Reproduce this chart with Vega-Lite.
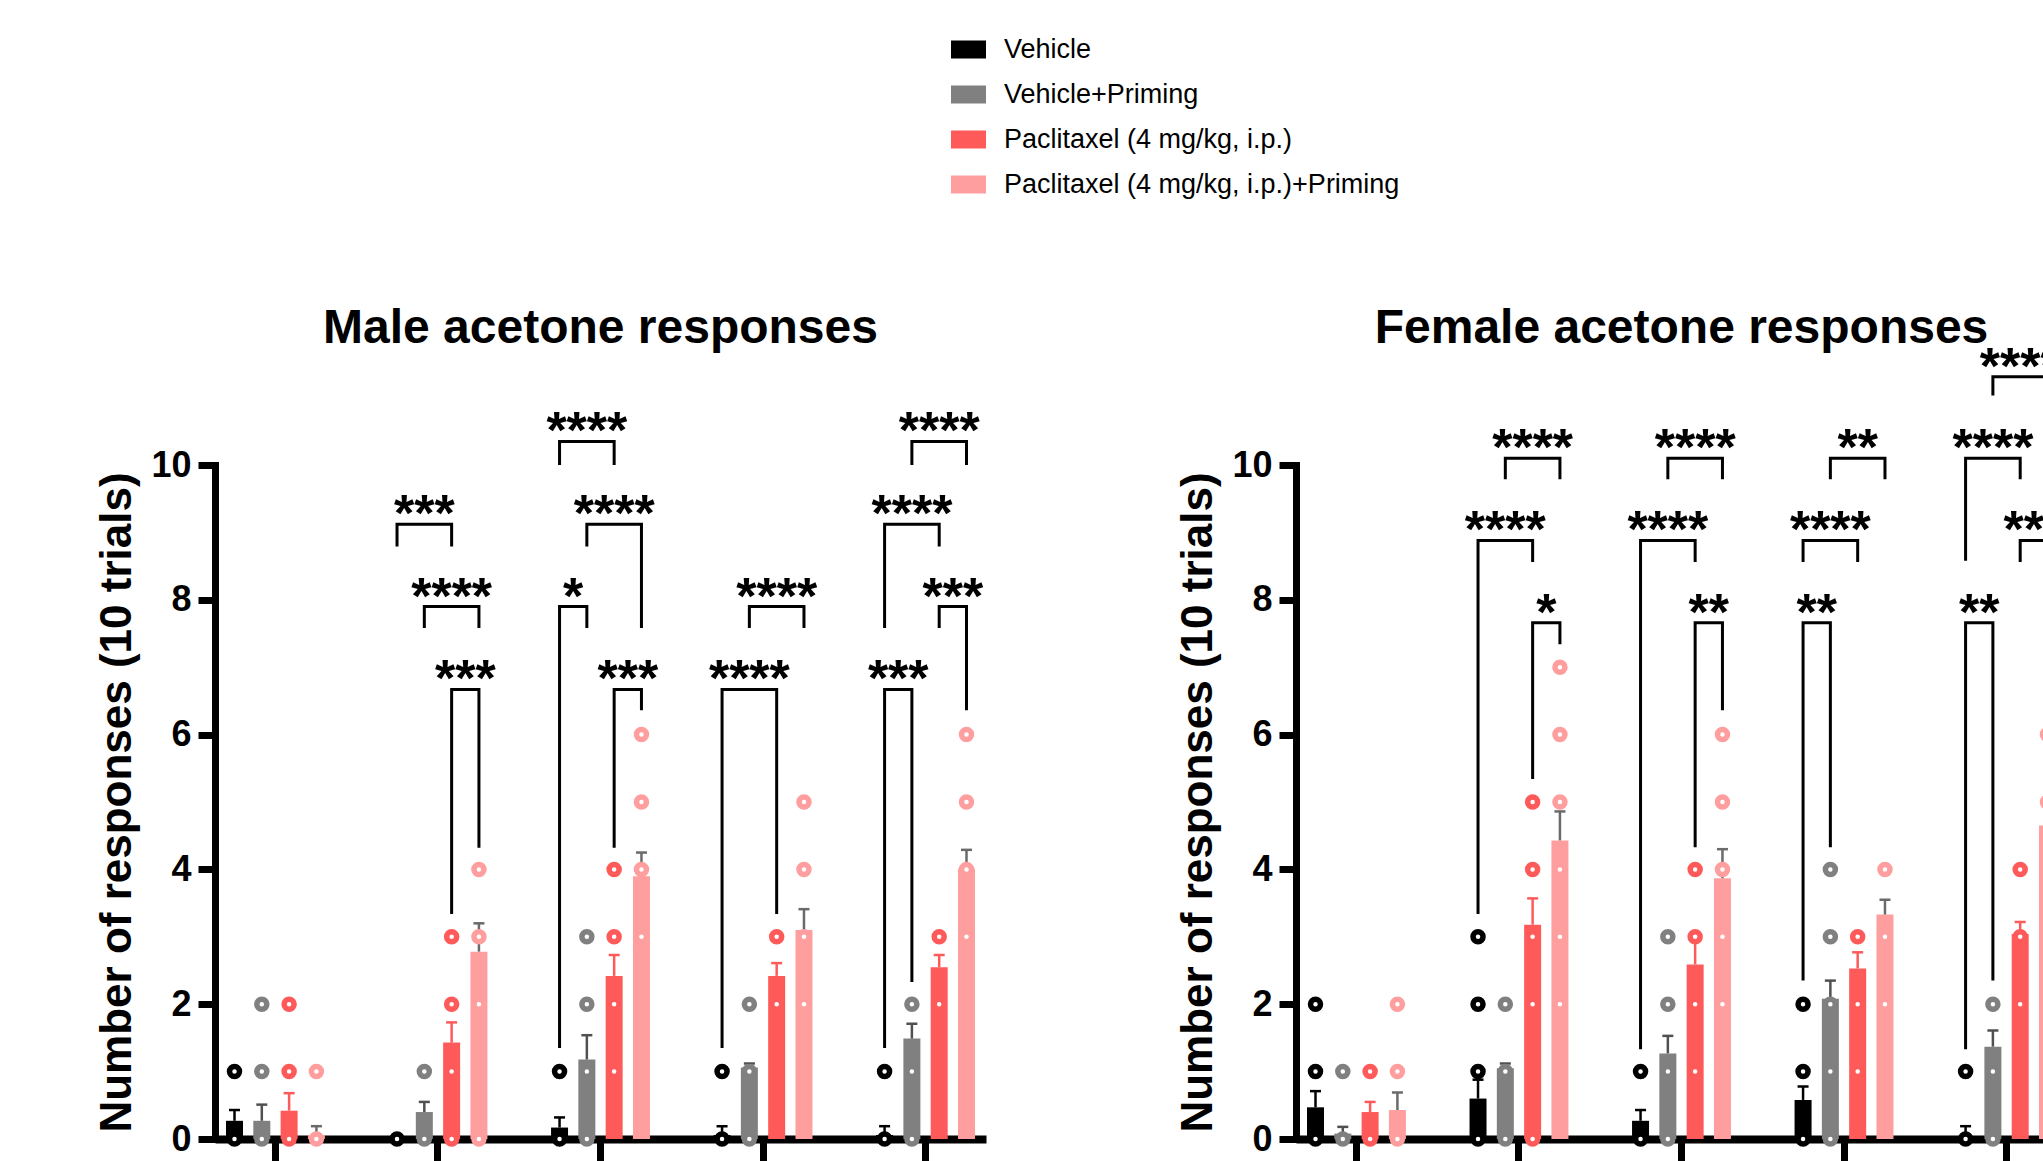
{
  "$schema": "https://vega.github.io/schema/vega-lite/v6.json",
  "padding": {"left": 95, "top": 32, "right": 0, "bottom": 0},
  "spacing": 310,
  "bounds": "flush",
  "resolve": {"scale": {"color": "shared", "fill": "shared"}, "legend": {"color": "shared"}},
  "datasets": {
    "barsM": [
      {"d": "Baseline", "t": "V", "mean": 0.27, "hi": 0.43},
      {"d": "Baseline", "t": "VP", "mean": 0.27, "hi": 0.51},
      {"d": "Baseline", "t": "P", "mean": 0.42, "hi": 0.68},
      {"d": "Baseline", "t": "PP", "mean": 0.06, "hi": 0.19},
      {"d": "Day 7", "t": "V", "mean": 0, "hi": 0},
      {"d": "Day 7", "t": "VP", "mean": 0.40, "hi": 0.55},
      {"d": "Day 7", "t": "P", "mean": 1.43, "hi": 1.73},
      {"d": "Day 7", "t": "PP", "mean": 2.78, "hi": 3.20},
      {"d": "Day 14", "t": "V", "mean": 0.17, "hi": 0.32},
      {"d": "Day 14", "t": "VP", "mean": 1.18, "hi": 1.54},
      {"d": "Day 14", "t": "P", "mean": 2.42, "hi": 2.73},
      {"d": "Day 14", "t": "PP", "mean": 3.90, "hi": 4.25},
      {"d": "Day 21", "t": "V", "mean": 0.06, "hi": 0.19},
      {"d": "Day 21", "t": "VP", "mean": 1.06, "hi": 1.12},
      {"d": "Day 21", "t": "P", "mean": 2.42, "hi": 2.61},
      {"d": "Day 21", "t": "PP", "mean": 3.10, "hi": 3.41},
      {"d": "Day 28", "t": "V", "mean": 0.06, "hi": 0.19},
      {"d": "Day 28", "t": "VP", "mean": 1.49, "hi": 1.71},
      {"d": "Day 28", "t": "P", "mean": 2.55, "hi": 2.73},
      {"d": "Day 28", "t": "PP", "mean": 4.01, "hi": 4.29}
    ],
    "barsF": [
      {"d": "Baseline", "t": "V", "mean": 0.47, "hi": 0.71},
      {"d": "Baseline", "t": "VP", "mean": 0.08, "hi": 0.18},
      {"d": "Baseline", "t": "P", "mean": 0.40, "hi": 0.55},
      {"d": "Baseline", "t": "PP", "mean": 0.43, "hi": 0.69},
      {"d": "Day 7", "t": "V", "mean": 0.60, "hi": 0.88},
      {"d": "Day 7", "t": "VP", "mean": 1.05, "hi": 1.12},
      {"d": "Day 7", "t": "P", "mean": 3.18, "hi": 3.57},
      {"d": "Day 7", "t": "PP", "mean": 4.43, "hi": 4.86},
      {"d": "Day 14", "t": "V", "mean": 0.27, "hi": 0.43},
      {"d": "Day 14", "t": "VP", "mean": 1.27, "hi": 1.53},
      {"d": "Day 14", "t": "P", "mean": 2.59, "hi": 2.95},
      {"d": "Day 14", "t": "PP", "mean": 3.87, "hi": 4.30},
      {"d": "Day 21", "t": "V", "mean": 0.58, "hi": 0.78},
      {"d": "Day 21", "t": "VP", "mean": 2.08, "hi": 2.35},
      {"d": "Day 21", "t": "P", "mean": 2.53, "hi": 2.77},
      {"d": "Day 21", "t": "PP", "mean": 3.33, "hi": 3.55},
      {"d": "Day 28", "t": "V", "mean": 0.04, "hi": 0.19},
      {"d": "Day 28", "t": "VP", "mean": 1.37, "hi": 1.61},
      {"d": "Day 28", "t": "P", "mean": 3.04, "hi": 3.22},
      {"d": "Day 28", "t": "PP", "mean": 4.65, "hi": 4.95}
    ],
    "dotsM": [
      {"d": "Baseline", "t": "V", "v": 0}, {"d": "Baseline", "t": "V", "v": 1},
      {"d": "Baseline", "t": "VP", "v": 0}, {"d": "Baseline", "t": "VP", "v": 1}, {"d": "Baseline", "t": "VP", "v": 2},
      {"d": "Baseline", "t": "P", "v": 0}, {"d": "Baseline", "t": "P", "v": 1}, {"d": "Baseline", "t": "P", "v": 2},
      {"d": "Baseline", "t": "PP", "v": 0}, {"d": "Baseline", "t": "PP", "v": 1},
      {"d": "Day 7", "t": "V", "v": 0},
      {"d": "Day 7", "t": "VP", "v": 0}, {"d": "Day 7", "t": "VP", "v": 1},
      {"d": "Day 7", "t": "P", "v": 0}, {"d": "Day 7", "t": "P", "v": 1}, {"d": "Day 7", "t": "P", "v": 2}, {"d": "Day 7", "t": "P", "v": 3},
      {"d": "Day 7", "t": "PP", "v": 0}, {"d": "Day 7", "t": "PP", "v": 2}, {"d": "Day 7", "t": "PP", "v": 3}, {"d": "Day 7", "t": "PP", "v": 4},
      {"d": "Day 14", "t": "V", "v": 0}, {"d": "Day 14", "t": "V", "v": 1},
      {"d": "Day 14", "t": "VP", "v": 0}, {"d": "Day 14", "t": "VP", "v": 1}, {"d": "Day 14", "t": "VP", "v": 2}, {"d": "Day 14", "t": "VP", "v": 3},
      {"d": "Day 14", "t": "P", "v": 1}, {"d": "Day 14", "t": "P", "v": 2}, {"d": "Day 14", "t": "P", "v": 3}, {"d": "Day 14", "t": "P", "v": 4},
      {"d": "Day 14", "t": "PP", "v": 3}, {"d": "Day 14", "t": "PP", "v": 4}, {"d": "Day 14", "t": "PP", "v": 5}, {"d": "Day 14", "t": "PP", "v": 6},
      {"d": "Day 21", "t": "V", "v": 0}, {"d": "Day 21", "t": "V", "v": 1},
      {"d": "Day 21", "t": "VP", "v": 0}, {"d": "Day 21", "t": "VP", "v": 1}, {"d": "Day 21", "t": "VP", "v": 2},
      {"d": "Day 21", "t": "P", "v": 2}, {"d": "Day 21", "t": "P", "v": 3},
      {"d": "Day 21", "t": "PP", "v": 2}, {"d": "Day 21", "t": "PP", "v": 3}, {"d": "Day 21", "t": "PP", "v": 4}, {"d": "Day 21", "t": "PP", "v": 5},
      {"d": "Day 28", "t": "V", "v": 0}, {"d": "Day 28", "t": "V", "v": 1},
      {"d": "Day 28", "t": "VP", "v": 0}, {"d": "Day 28", "t": "VP", "v": 1}, {"d": "Day 28", "t": "VP", "v": 2},
      {"d": "Day 28", "t": "P", "v": 2}, {"d": "Day 28", "t": "P", "v": 3},
      {"d": "Day 28", "t": "PP", "v": 3}, {"d": "Day 28", "t": "PP", "v": 4}, {"d": "Day 28", "t": "PP", "v": 5}, {"d": "Day 28", "t": "PP", "v": 6}
    ],
    "dotsF": [
      {"d": "Baseline", "t": "V", "v": 0}, {"d": "Baseline", "t": "V", "v": 1}, {"d": "Baseline", "t": "V", "v": 2},
      {"d": "Baseline", "t": "VP", "v": 0}, {"d": "Baseline", "t": "VP", "v": 1},
      {"d": "Baseline", "t": "P", "v": 0}, {"d": "Baseline", "t": "P", "v": 1},
      {"d": "Baseline", "t": "PP", "v": 0}, {"d": "Baseline", "t": "PP", "v": 1}, {"d": "Baseline", "t": "PP", "v": 2},
      {"d": "Day 7", "t": "V", "v": 0}, {"d": "Day 7", "t": "V", "v": 1}, {"d": "Day 7", "t": "V", "v": 2}, {"d": "Day 7", "t": "V", "v": 3},
      {"d": "Day 7", "t": "VP", "v": 0}, {"d": "Day 7", "t": "VP", "v": 1}, {"d": "Day 7", "t": "VP", "v": 2},
      {"d": "Day 7", "t": "P", "v": 0}, {"d": "Day 7", "t": "P", "v": 2}, {"d": "Day 7", "t": "P", "v": 3}, {"d": "Day 7", "t": "P", "v": 4}, {"d": "Day 7", "t": "P", "v": 5},
      {"d": "Day 7", "t": "PP", "v": 2}, {"d": "Day 7", "t": "PP", "v": 3}, {"d": "Day 7", "t": "PP", "v": 4}, {"d": "Day 7", "t": "PP", "v": 5}, {"d": "Day 7", "t": "PP", "v": 6}, {"d": "Day 7", "t": "PP", "v": 7},
      {"d": "Day 14", "t": "V", "v": 0}, {"d": "Day 14", "t": "V", "v": 1},
      {"d": "Day 14", "t": "VP", "v": 0}, {"d": "Day 14", "t": "VP", "v": 1}, {"d": "Day 14", "t": "VP", "v": 2}, {"d": "Day 14", "t": "VP", "v": 3},
      {"d": "Day 14", "t": "P", "v": 1}, {"d": "Day 14", "t": "P", "v": 2}, {"d": "Day 14", "t": "P", "v": 3}, {"d": "Day 14", "t": "P", "v": 4},
      {"d": "Day 14", "t": "PP", "v": 2}, {"d": "Day 14", "t": "PP", "v": 3}, {"d": "Day 14", "t": "PP", "v": 4}, {"d": "Day 14", "t": "PP", "v": 5}, {"d": "Day 14", "t": "PP", "v": 6},
      {"d": "Day 21", "t": "V", "v": 0}, {"d": "Day 21", "t": "V", "v": 1}, {"d": "Day 21", "t": "V", "v": 2},
      {"d": "Day 21", "t": "VP", "v": 0}, {"d": "Day 21", "t": "VP", "v": 1}, {"d": "Day 21", "t": "VP", "v": 2}, {"d": "Day 21", "t": "VP", "v": 3}, {"d": "Day 21", "t": "VP", "v": 4},
      {"d": "Day 21", "t": "P", "v": 1}, {"d": "Day 21", "t": "P", "v": 2}, {"d": "Day 21", "t": "P", "v": 3},
      {"d": "Day 21", "t": "PP", "v": 2}, {"d": "Day 21", "t": "PP", "v": 3}, {"d": "Day 21", "t": "PP", "v": 4},
      {"d": "Day 28", "t": "V", "v": 0}, {"d": "Day 28", "t": "V", "v": 1},
      {"d": "Day 28", "t": "VP", "v": 0}, {"d": "Day 28", "t": "VP", "v": 1}, {"d": "Day 28", "t": "VP", "v": 2},
      {"d": "Day 28", "t": "P", "v": 2}, {"d": "Day 28", "t": "P", "v": 3}, {"d": "Day 28", "t": "P", "v": 4},
      {"d": "Day 28", "t": "PP", "v": 2}, {"d": "Day 28", "t": "PP", "v": 3}, {"d": "Day 28", "t": "PP", "v": 4}, {"d": "Day 28", "t": "PP", "v": 5}, {"d": "Day 28", "t": "PP", "v": 6}
    ],
    "brM": [
      {"b": "m1", "d": "Day 7", "t": "V", "y": 8.79, "o": 1}, {"b": "m1", "d": "Day 7", "t": "V", "y": 9.12, "o": 2}, {"b": "m1", "d": "Day 7", "t": "P", "y": 9.12, "o": 3}, {"b": "m1", "d": "Day 7", "t": "P", "y": 8.79, "o": 4},
      {"b": "m2", "d": "Day 7", "t": "VP", "y": 7.58, "o": 1}, {"b": "m2", "d": "Day 7", "t": "VP", "y": 7.90, "o": 2}, {"b": "m2", "d": "Day 7", "t": "PP", "y": 7.90, "o": 3}, {"b": "m2", "d": "Day 7", "t": "PP", "y": 7.58, "o": 4},
      {"b": "m3", "d": "Day 7", "t": "P", "y": 3.34, "o": 1}, {"b": "m3", "d": "Day 7", "t": "P", "y": 6.67, "o": 2}, {"b": "m3", "d": "Day 7", "t": "PP", "y": 6.67, "o": 3}, {"b": "m3", "d": "Day 7", "t": "PP", "y": 4.32, "o": 4},
      {"b": "m4", "d": "Day 14", "t": "V", "y": 10.0, "o": 1}, {"b": "m4", "d": "Day 14", "t": "V", "y": 10.35, "o": 2}, {"b": "m4", "d": "Day 14", "t": "P", "y": 10.35, "o": 3}, {"b": "m4", "d": "Day 14", "t": "P", "y": 10.0, "o": 4},
      {"b": "m5", "d": "Day 14", "t": "VP", "y": 8.79, "o": 1}, {"b": "m5", "d": "Day 14", "t": "VP", "y": 9.12, "o": 2}, {"b": "m5", "d": "Day 14", "t": "PP", "y": 9.12, "o": 3}, {"b": "m5", "d": "Day 14", "t": "PP", "y": 7.58, "o": 4},
      {"b": "m6", "d": "Day 14", "t": "V", "y": 1.35, "o": 1}, {"b": "m6", "d": "Day 14", "t": "V", "y": 7.90, "o": 2}, {"b": "m6", "d": "Day 14", "t": "VP", "y": 7.90, "o": 3}, {"b": "m6", "d": "Day 14", "t": "VP", "y": 7.58, "o": 4},
      {"b": "m7", "d": "Day 14", "t": "P", "y": 4.32, "o": 1}, {"b": "m7", "d": "Day 14", "t": "P", "y": 6.67, "o": 2}, {"b": "m7", "d": "Day 14", "t": "PP", "y": 6.67, "o": 3}, {"b": "m7", "d": "Day 14", "t": "PP", "y": 6.36, "o": 4},
      {"b": "m8", "d": "Day 21", "t": "VP", "y": 7.58, "o": 1}, {"b": "m8", "d": "Day 21", "t": "VP", "y": 7.90, "o": 2}, {"b": "m8", "d": "Day 21", "t": "PP", "y": 7.90, "o": 3}, {"b": "m8", "d": "Day 21", "t": "PP", "y": 7.58, "o": 4},
      {"b": "m9", "d": "Day 21", "t": "V", "y": 1.35, "o": 1}, {"b": "m9", "d": "Day 21", "t": "V", "y": 6.67, "o": 2}, {"b": "m9", "d": "Day 21", "t": "P", "y": 6.67, "o": 3}, {"b": "m9", "d": "Day 21", "t": "P", "y": 3.34, "o": 4},
      {"b": "m10", "d": "Day 28", "t": "VP", "y": 10.0, "o": 1}, {"b": "m10", "d": "Day 28", "t": "VP", "y": 10.35, "o": 2}, {"b": "m10", "d": "Day 28", "t": "PP", "y": 10.35, "o": 3}, {"b": "m10", "d": "Day 28", "t": "PP", "y": 10.0, "o": 4},
      {"b": "m11", "d": "Day 28", "t": "V", "y": 7.58, "o": 1}, {"b": "m11", "d": "Day 28", "t": "V", "y": 9.12, "o": 2}, {"b": "m11", "d": "Day 28", "t": "P", "y": 9.12, "o": 3}, {"b": "m11", "d": "Day 28", "t": "P", "y": 8.79, "o": 4},
      {"b": "m12", "d": "Day 28", "t": "P", "y": 7.58, "o": 1}, {"b": "m12", "d": "Day 28", "t": "P", "y": 7.90, "o": 2}, {"b": "m12", "d": "Day 28", "t": "PP", "y": 7.90, "o": 3}, {"b": "m12", "d": "Day 28", "t": "PP", "y": 6.36, "o": 4},
      {"b": "m13", "d": "Day 28", "t": "V", "y": 1.35, "o": 1}, {"b": "m13", "d": "Day 28", "t": "V", "y": 6.67, "o": 2}, {"b": "m13", "d": "Day 28", "t": "VP", "y": 6.67, "o": 3}, {"b": "m13", "d": "Day 28", "t": "VP", "y": 2.33, "o": 4}
    ],
    "brF": [
      {"b": "f1", "d": "Day 7", "t": "VP", "y": 9.79, "o": 1}, {"b": "f1", "d": "Day 7", "t": "VP", "y": 10.1, "o": 2}, {"b": "f1", "d": "Day 7", "t": "PP", "y": 10.1, "o": 3}, {"b": "f1", "d": "Day 7", "t": "PP", "y": 9.79, "o": 4},
      {"b": "f2", "d": "Day 7", "t": "V", "y": 3.34, "o": 1}, {"b": "f2", "d": "Day 7", "t": "V", "y": 8.88, "o": 2}, {"b": "f2", "d": "Day 7", "t": "P", "y": 8.88, "o": 3}, {"b": "f2", "d": "Day 7", "t": "P", "y": 8.56, "o": 4},
      {"b": "f3", "d": "Day 7", "t": "P", "y": 5.34, "o": 1}, {"b": "f3", "d": "Day 7", "t": "P", "y": 7.66, "o": 2}, {"b": "f3", "d": "Day 7", "t": "PP", "y": 7.66, "o": 3}, {"b": "f3", "d": "Day 7", "t": "PP", "y": 7.34, "o": 4},
      {"b": "f4", "d": "Day 14", "t": "VP", "y": 9.79, "o": 1}, {"b": "f4", "d": "Day 14", "t": "VP", "y": 10.1, "o": 2}, {"b": "f4", "d": "Day 14", "t": "PP", "y": 10.1, "o": 3}, {"b": "f4", "d": "Day 14", "t": "PP", "y": 9.79, "o": 4},
      {"b": "f5", "d": "Day 14", "t": "V", "y": 1.33, "o": 1}, {"b": "f5", "d": "Day 14", "t": "V", "y": 8.88, "o": 2}, {"b": "f5", "d": "Day 14", "t": "P", "y": 8.88, "o": 3}, {"b": "f5", "d": "Day 14", "t": "P", "y": 8.56, "o": 4},
      {"b": "f6", "d": "Day 14", "t": "P", "y": 4.33, "o": 1}, {"b": "f6", "d": "Day 14", "t": "P", "y": 7.66, "o": 2}, {"b": "f6", "d": "Day 14", "t": "PP", "y": 7.66, "o": 3}, {"b": "f6", "d": "Day 14", "t": "PP", "y": 6.36, "o": 4},
      {"b": "f7", "d": "Day 21", "t": "VP", "y": 9.79, "o": 1}, {"b": "f7", "d": "Day 21", "t": "VP", "y": 10.1, "o": 2}, {"b": "f7", "d": "Day 21", "t": "PP", "y": 10.1, "o": 3}, {"b": "f7", "d": "Day 21", "t": "PP", "y": 9.79, "o": 4},
      {"b": "f8", "d": "Day 21", "t": "V", "y": 8.56, "o": 1}, {"b": "f8", "d": "Day 21", "t": "V", "y": 8.88, "o": 2}, {"b": "f8", "d": "Day 21", "t": "P", "y": 8.88, "o": 3}, {"b": "f8", "d": "Day 21", "t": "P", "y": 8.56, "o": 4},
      {"b": "f9", "d": "Day 21", "t": "V", "y": 2.35, "o": 1}, {"b": "f9", "d": "Day 21", "t": "V", "y": 7.66, "o": 2}, {"b": "f9", "d": "Day 21", "t": "VP", "y": 7.66, "o": 3}, {"b": "f9", "d": "Day 21", "t": "VP", "y": 4.33, "o": 4},
      {"b": "f10", "d": "Day 28", "t": "VP", "y": 11.03, "o": 1}, {"b": "f10", "d": "Day 28", "t": "VP", "y": 11.31, "o": 2}, {"b": "f10", "d": "Day 28", "t": "PP", "y": 11.31, "o": 3}, {"b": "f10", "d": "Day 28", "t": "PP", "y": 11.03, "o": 4},
      {"b": "f11", "d": "Day 28", "t": "V", "y": 8.58, "o": 1}, {"b": "f11", "d": "Day 28", "t": "V", "y": 10.1, "o": 2}, {"b": "f11", "d": "Day 28", "t": "P", "y": 10.1, "o": 3}, {"b": "f11", "d": "Day 28", "t": "P", "y": 9.79, "o": 4},
      {"b": "f12", "d": "Day 28", "t": "P", "y": 8.56, "o": 1}, {"b": "f12", "d": "Day 28", "t": "P", "y": 8.88, "o": 2}, {"b": "f12", "d": "Day 28", "t": "PP", "y": 8.88, "o": 3}, {"b": "f12", "d": "Day 28", "t": "PP", "y": 6.36, "o": 4},
      {"b": "f13", "d": "Day 28", "t": "V", "y": 1.33, "o": 1}, {"b": "f13", "d": "Day 28", "t": "V", "y": 7.66, "o": 2}, {"b": "f13", "d": "Day 28", "t": "VP", "y": 7.66, "o": 3}, {"b": "f13", "d": "Day 28", "t": "VP", "y": 2.35, "o": 4}
    ],
    "stM": [
      {"d": "Day 7", "t": "VP", "y": 9.12, "s": "***"},
      {"d": "Day 7", "t": "P", "y": 7.90, "s": "****"},
      {"d": "Day 7", "t": "P|PP", "y": 6.67, "s": "***"},
      {"d": "Day 14", "t": "VP", "y": 10.35, "s": "****"},
      {"d": "Day 14", "t": "P", "y": 9.12, "s": "****"},
      {"d": "Day 14", "t": "V|VP", "y": 7.90, "s": "*"},
      {"d": "Day 14", "t": "P|PP", "y": 6.67, "s": "***"},
      {"d": "Day 21", "t": "P", "y": 7.90, "s": "****"},
      {"d": "Day 21", "t": "VP", "y": 6.67, "s": "****"},
      {"d": "Day 28", "t": "P", "y": 10.35, "s": "****"},
      {"d": "Day 28", "t": "VP", "y": 9.12, "s": "****"},
      {"d": "Day 28", "t": "P|PP", "y": 7.90, "s": "***"},
      {"d": "Day 28", "t": "V|VP", "y": 6.67, "s": "***"}
    ],
    "stF": [
      {"d": "Day 7", "t": "P", "y": 10.1, "s": "****"},
      {"d": "Day 7", "t": "VP", "y": 8.88, "s": "****"},
      {"d": "Day 7", "t": "P|PP", "y": 7.66, "s": "*"},
      {"d": "Day 14", "t": "P", "y": 10.1, "s": "****"},
      {"d": "Day 14", "t": "VP", "y": 8.88, "s": "****"},
      {"d": "Day 14", "t": "P|PP", "y": 7.66, "s": "**"},
      {"d": "Day 21", "t": "P", "y": 10.1, "s": "**"},
      {"d": "Day 21", "t": "VP", "y": 8.88, "s": "****"},
      {"d": "Day 21", "t": "V|VP", "y": 7.66, "s": "**"},
      {"d": "Day 28", "t": "P", "y": 11.31, "s": "****"},
      {"d": "Day 28", "t": "VP", "y": 10.1, "s": "****"},
      {"d": "Day 28", "t": "P|PP", "y": 8.88, "s": "***"},
      {"d": "Day 28", "t": "V|VP", "y": 7.66, "s": "**"}
    ]
  },
  "hconcat": [
    {
      "width": 771,
      "height": 674,
      "title": {"text": "Male acetone responses", "offset": 53},
      "encoding": {
        "x": {"field": "d", "type": "nominal", "title": null, "scale": {"domain": ["Baseline", "Day 7", "Day 14", "Day 21", "Day 28"], "paddingInner": 0.412, "paddingOuter": 0.078}},
        "xOffset": {"field": "t", "type": "nominal", "scale": {"domain": ["V", "V|VP", "VP", "VP|P", "P", "P|PP", "PP"], "paddingInner": 0, "paddingOuter": 0}}
      },
      "layer": [
        {
          "data": {"name": "barsM"},
          "mark": {"type": "bar", "width": 17},
          "encoding": {
            "y": {"field": "mean", "type": "quantitative", "scale": {"domain": [0, 10], "nice": false}, "axis": {"values": [0, 2, 4, 6, 8, 10]}, "title": "Number of responses (10 trials)"},
            "color": {"field": "t", "type": "nominal", "scale": {"domain": ["V", "VP", "P", "PP"], "range": ["#000000", "#808080", "#FF5A5A", "#FF9E9E"]},
              "legend": {"title": null, "orient": "none", "legendX": 736, "legendY": -433, "padding": 0, "direction": "vertical",
                "labelExpr": "datum.label == 'V' ? 'Vehicle' : datum.label == 'VP' ? 'Vehicle+Priming' : datum.label == 'P' ? 'Paclitaxel (4 mg/kg, i.p.)' : 'Paclitaxel (4 mg/kg, i.p.)+Priming'"}}
          }
        },
        {
          "data": {"name": "barsM"},
          "mark": {"type": "bar", "width": 2.5},
          "encoding": {
            "y": {"field": "mean", "type": "quantitative", "scale": {"domain": [0, 10], "nice": false}, "axis": {"values": [0, 2, 4, 6, 8, 10]}, "title": "Number of responses (10 trials)"},
            "y2": {"field": "hi"},
            "fill": {"field": "t", "type": "nominal", "scale": {"domain": ["V", "VP", "P", "PP"], "range": ["#000000", "#505050", "#FF5A5A", "#6A6A6A"]}, "legend": null}
          }
        },
        {
          "data": {"name": "barsM"},
          "mark": {"type": "tick", "orient": "horizontal", "size": 11, "thickness": 2.5, "opacity": 1},
          "encoding": {
            "y": {"field": "hi", "type": "quantitative", "scale": {"domain": [0, 10], "nice": false}, "axis": {"values": [0, 2, 4, 6, 8, 10]}, "title": "Number of responses (10 trials)"},
            "fill": {"field": "t", "type": "nominal", "legend": null}
          }
        },
        {
          "data": {"name": "dotsM"},
          "mark": {"type": "point", "filled": false, "fill": "white", "size": 100, "strokeWidth": 5.5, "opacity": 1},
          "encoding": {
            "y": {"field": "v", "type": "quantitative", "scale": {"domain": [0, 10], "nice": false}, "axis": {"values": [0, 2, 4, 6, 8, 10]}, "title": "Number of responses (10 trials)"},
            "color": {"field": "t", "type": "nominal", "legend": null}
          }
        },
        {
          "data": {"name": "brM"},
          "mark": {"type": "line", "color": "black", "strokeWidth": 3, "strokeJoin": "miter", "strokeCap": "butt"},
          "encoding": {
            "y": {"field": "y", "type": "quantitative", "scale": {"domain": [0, 10], "nice": false}, "axis": {"values": [0, 2, 4, 6, 8, 10]}, "title": "Number of responses (10 trials)"},
            "detail": {"field": "b"},
            "order": {"field": "o", "type": "quantitative"}
          }
        },
        {
          "data": {"name": "stM"},
          "mark": {"type": "text", "fontSize": 52, "fontWeight": "bold", "baseline": "alphabetic", "dy": 7, "color": "black"},
          "encoding": {
            "y": {"field": "y", "type": "quantitative", "scale": {"domain": [0, 10], "nice": false}, "axis": {"values": [0, 2, 4, 6, 8, 10]}, "title": "Number of responses (10 trials)"},
            "text": {"field": "s"}
          }
        }
      ]
    },
    {
      "width": 771,
      "height": 674,
      "title": {"text": "Female acetone responses", "offset": -11},
      "encoding": {
        "x": {"field": "d", "type": "nominal", "title": null, "scale": {"domain": ["Baseline", "Day 7", "Day 14", "Day 21", "Day 28"], "paddingInner": 0.412, "paddingOuter": 0.078}},
        "xOffset": {"field": "t", "type": "nominal", "scale": {"domain": ["V", "V|VP", "VP", "VP|P", "P", "P|PP", "PP"], "paddingInner": 0, "paddingOuter": 0}}
      },
      "layer": [
        {
          "data": {"name": "barsF"},
          "mark": {"type": "bar", "width": 17},
          "encoding": {
            "y": {"field": "mean", "type": "quantitative", "scale": {"domain": [0, 10], "nice": false}, "axis": {"values": [0, 2, 4, 6, 8, 10]}, "title": "Number of responses (10 trials)"},
            "color": {"field": "t", "type": "nominal", "scale": {"domain": ["V", "VP", "P", "PP"], "range": ["#000000", "#808080", "#FF5A5A", "#FF9E9E"]},
              "legend": {"title": null, "orient": "none", "legendX": 736, "legendY": -433, "padding": 0, "direction": "vertical",
                "labelExpr": "datum.label == 'V' ? 'Vehicle' : datum.label == 'VP' ? 'Vehicle+Priming' : datum.label == 'P' ? 'Paclitaxel (4 mg/kg, i.p.)' : 'Paclitaxel (4 mg/kg, i.p.)+Priming'"}}
          }
        },
        {
          "data": {"name": "barsF"},
          "mark": {"type": "bar", "width": 2.5},
          "encoding": {
            "y": {"field": "mean", "type": "quantitative", "scale": {"domain": [0, 10], "nice": false}, "axis": {"values": [0, 2, 4, 6, 8, 10]}, "title": "Number of responses (10 trials)"},
            "y2": {"field": "hi"},
            "fill": {"field": "t", "type": "nominal", "legend": null}
          }
        },
        {
          "data": {"name": "barsF"},
          "mark": {"type": "tick", "orient": "horizontal", "size": 11, "thickness": 2.5, "opacity": 1},
          "encoding": {
            "y": {"field": "hi", "type": "quantitative", "scale": {"domain": [0, 10], "nice": false}, "axis": {"values": [0, 2, 4, 6, 8, 10]}, "title": "Number of responses (10 trials)"},
            "fill": {"field": "t", "type": "nominal", "legend": null}
          }
        },
        {
          "data": {"name": "dotsF"},
          "mark": {"type": "point", "filled": false, "fill": "white", "size": 100, "strokeWidth": 5.5, "opacity": 1},
          "encoding": {
            "y": {"field": "v", "type": "quantitative", "scale": {"domain": [0, 10], "nice": false}, "axis": {"values": [0, 2, 4, 6, 8, 10]}, "title": "Number of responses (10 trials)"},
            "color": {"field": "t", "type": "nominal", "legend": null}
          }
        },
        {
          "data": {"name": "brF"},
          "mark": {"type": "line", "color": "black", "strokeWidth": 3, "strokeJoin": "miter", "strokeCap": "butt"},
          "encoding": {
            "y": {"field": "y", "type": "quantitative", "scale": {"domain": [0, 10], "nice": false}, "axis": {"values": [0, 2, 4, 6, 8, 10]}, "title": "Number of responses (10 trials)"},
            "detail": {"field": "b"},
            "order": {"field": "o", "type": "quantitative"}
          }
        },
        {
          "data": {"name": "stF"},
          "mark": {"type": "text", "fontSize": 52, "fontWeight": "bold", "baseline": "alphabetic", "dy": 7, "color": "black"},
          "encoding": {
            "y": {"field": "y", "type": "quantitative", "scale": {"domain": [0, 10], "nice": false}, "axis": {"values": [0, 2, 4, 6, 8, 10]}, "title": "Number of responses (10 trials)"},
            "text": {"field": "s"}
          }
        }
      ]
    }
  ],
  "config": {
    "font": "Liberation Sans",
    "view": {"stroke": null},
    "axis": {"grid": false, "domainColor": "#000000", "tickColor": "#000000", "labelColor": "#000000", "titleColor": "#000000", "labelFont": "Liberation Sans", "titleFont": "Liberation Sans"},
    "axisY": {"domainWidth": 7, "domainCap": "square", "tickWidth": 7, "tickSize": 17, "labelFontSize": 36, "labelFontWeight": "bold", "labelPadding": 7, "titleFontSize": 44, "titleFontWeight": "bold", "titlePadding": 11},
    "axisX": {"domainWidth": 8, "tickWidth": 7, "tickSize": 24, "labels": false},
    "legend": {"labelFontSize": 27, "labelFont": "Liberation Sans", "labelColor": "#000000", "symbolType": "M-1,-0.514H1V0.514H-1Z", "symbolSize": 1225, "labelOffset": 18, "rowPadding": 14, "symbolStrokeWidth": 0, "labelLimit": 600},
    "title": {"fontSize": 48, "fontWeight": "bold", "font": "Liberation Sans", "color": "#000000", "anchor": "middle", "frame": "group", "baseline": "alphabetic"}
  }
}
